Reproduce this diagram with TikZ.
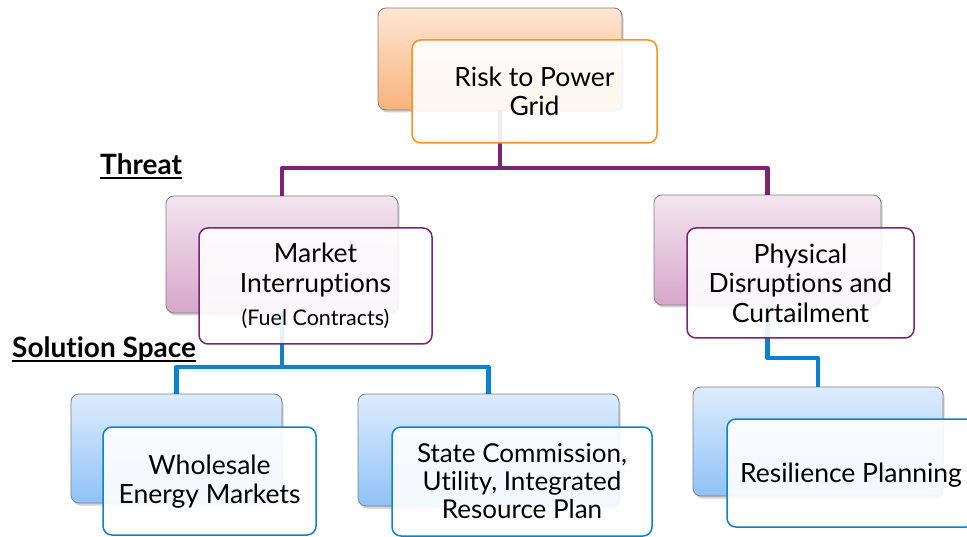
\documentclass[tikz,border=0pt]{standalone}
\usepackage{fontspec}
\setmainfont{Lato}[Ligatures={NoCommon}]
\usetikzlibrary{shadows}
\definecolor{pur}{HTML}{7B2473}
\definecolor{blu}{HTML}{0A82CC}
\definecolor{org}{HTML}{F7941E}
\definecolor{orgT}{HTML}{FEE7D5}
\definecolor{orgB}{HTML}{F9B279}
\definecolor{purT}{HTML}{F3E6EF}
\definecolor{purB}{HTML}{D8A6CB}
\definecolor{bluT}{HTML}{DEECFD}
\definecolor{bluB}{HTML}{90C2F7}
\newcommand\myul[1]{\setbox0\hbox{#1}\rlap{\rule[-4pt]{\wd0}{2pt}}\box0}
\begin{document}
\begin{tikzpicture}[x=1pt,y=-1pt,
  backbox/.style={draw=black!50, line width=0.8pt, rounded corners=8pt,
    drop shadow={shadow xshift=1.5pt, shadow yshift=-2.5pt, opacity=0.35}},
  frontbox/.style={fill=white, fill opacity=0.9, text opacity=1, line width=1.5pt,
    rounded corners=9pt, align=center, inner sep=0pt,
    font=\fontsize{26.5}{29.5}\selectfont},
  pline/.style={draw=pur, line width=4.5pt, line join=round},
  bline/.style={draw=blu, line width=4.5pt, line join=round},
  lbl/.style={anchor=base west, inner sep=0pt, font=\bfseries\fontsize{28}{32}\selectfont}]
\clip (0,0) rectangle (967,537);
\fill[white] (0,0) rectangle (967,537);
% junctions
\coordinate (j0) at (500,168);
\coordinate (j1) at (282,367);
\coordinate (j2) at (767.5,358);
% back boxes
\path (500,59) node[backbox, top color=orgT, bottom color=orgB, minimum width=244pt, minimum height=102pt] (b0) {};
\path (282,254.5) node[backbox, top color=purT, bottom color=purB, minimum width=232pt, minimum height=117pt] (b1) {};
\path (767.5,250) node[backbox, top color=purT, bottom color=purB, minimum width=227pt, minimum height=110pt] (b2) {};
\path (176.5,448.5) node[backbox, top color=bluT, bottom color=bluB, minimum width=211pt, minimum height=109pt] (b3) {};
\path (488.5,450) node[backbox, top color=bluT, bottom color=bluB, minimum width=261pt, minimum height=112pt] (b4) {};
\path (818,441.5) node[backbox, top color=bluT, bottom color=bluB, minimum width=250pt, minimum height=109pt] (b5) {};
% connectors
\draw[pline] (b0.south) -- (j0);
\draw[pline] (b1.north) |- (j0) -| (b2.north);
\draw[bline] (b1.south) -- (j1);
\draw[bline] (b3.north) |- (j1) -| (b4.north);
\draw[bline] (b2.south) -- (j2) -| (b5.north);
% front boxes
\node[frontbox, draw=org, minimum width=245pt, minimum height=103pt] (f0) at (534.5,91.5) {Risk to Power\\Grid};
\node[frontbox, draw=pur, minimum width=233pt, minimum height=116pt] (f1) at (315.5,286) {Market\\Interruptions\\[4pt]{\fontsize{21.5}{24}\selectfont(Fuel Contracts)}};
\node[frontbox, draw=pur, minimum width=227pt, minimum height=110pt] (f2) at (800.5,283) {Physical\\Disruptions and\\Curtailment};
\node[frontbox, draw=blu, minimum width=213pt, minimum height=108pt, text depth=4pt] (f3) at (209.5,481) {Wholesale\\Energy Markets};
\node[frontbox, draw=blu, minimum width=260pt, minimum height=109pt, font=\fontsize{26}{28}\selectfont] (f4) at (522,481.5) {State Commission,\\Utility, Integrated\\Resource Plan};
\node[frontbox, draw=blu, minimum width=248pt, minimum height=108pt, text depth=0pt] (f5) at (851,473) {Resilience Planning};
% labels
\node[lbl] (threat) at (100,175) {\myul{Threat}};
\node[lbl] (sol) at (12,358) {\myul{Solution Space}};
\end{tikzpicture}
\end{document}
